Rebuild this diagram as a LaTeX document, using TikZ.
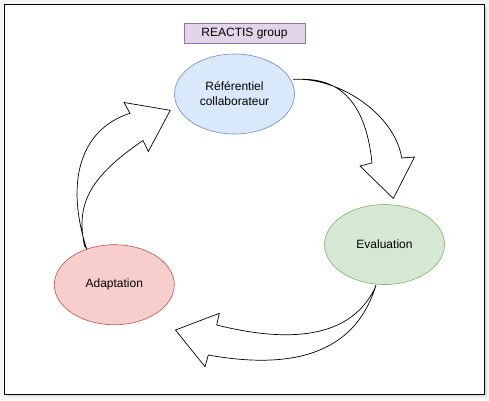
\documentclass[tikz,border=0pt]{standalone}
\usepackage{fontspec}
\setmainfont{Liberation Sans}
\usetikzlibrary{shapes.geometric}
\begin{document}
\begin{tikzpicture}[x=1pt,y=-1pt,
  every node/.style={font=\fontsize{12}{15}\selectfont, text=black},
  ell/.style={ellipse, minimum width=120pt, minimum height=80pt, inner sep=0pt, line width=0.6pt, align=center},
  bigarrow/.style={draw=black, fill=white, line width=0.7pt, line join=miter}
]
\definecolor{blueF}{HTML}{DAE8FC}\definecolor{blueD}{HTML}{6C8EBF}
\definecolor{greenF}{HTML}{D5E8D4}\definecolor{greenD}{HTML}{82B366}
\definecolor{redF}{HTML}{F8CECC}\definecolor{redD}{HTML}{B85450}
\definecolor{purF}{HTML}{E1D5E7}\definecolor{purD}{HTML}{9673A6}
\definecolor{bgc}{HTML}{F5F6F9}
\useasboundingbox (0,0) rectangle (489,400);
\fill[bgc] (0,0) rectangle (489,400);
\fill[black!12] (6.5,6.5) rectangle (486.5,396.5);
\draw[fill=white, line width=1pt] (4.5,4.5) rectangle (484,394);

\node[draw=purD, fill=purF, line width=0.6pt, minimum width=121pt, minimum height=20pt, inner sep=0pt] (title) at (244.5,33.3) {REACTIS group};

\node[ell, draw=blueD, fill=blueF] (ref) at (234.5,94) {R\'ef\'erentiel\\collaborateur};
\node[ell, draw=greenD, fill=greenF] (eval) at (384.5,244.5) {Evaluation};
\node[ell, draw=redD, fill=redF] (adapt) at (114.3,284.7) {Adaptation};

% arrow 1: Referentiel -> Evaluation
\coordinate (t1) at (293,79.3);
\draw[bigarrow] (t1) .. controls (340,77) and (395,115) .. (401.7,158)
  -- (414.5,157) -- (393.3,198.5) -- (360,166) -- (372,163)
  .. controls (366.4,107) and (343.4,79.3) .. (303,79.3) -- cycle;

% arrow 2: Evaluation -> Adaptation
\coordinate (t2) at (376,285);
\draw[bigarrow] (t2) .. controls (357,348.3) and (301,371.7) .. (208.3,355)
  -- (205,366.7) -- (175.5,330) -- (219.3,313.3) -- (216.7,325)
  .. controls (299.6,345.7) and (352.3,333.3) .. (374.5,289) -- cycle;

% arrow 3: Adaptation -> Referentiel
\coordinate (t3) at (86.5,248.3);
\draw[bigarrow] (t3) .. controls (66,185) and (78,130) .. (130,113.3)
  -- (124,102.5) -- (170.3,110.3) -- (148.3,151.5) -- (143,140.5)
  .. controls (88,178) and (76,205) .. (84.5,246) -- cycle;
\end{tikzpicture}
\end{document}
